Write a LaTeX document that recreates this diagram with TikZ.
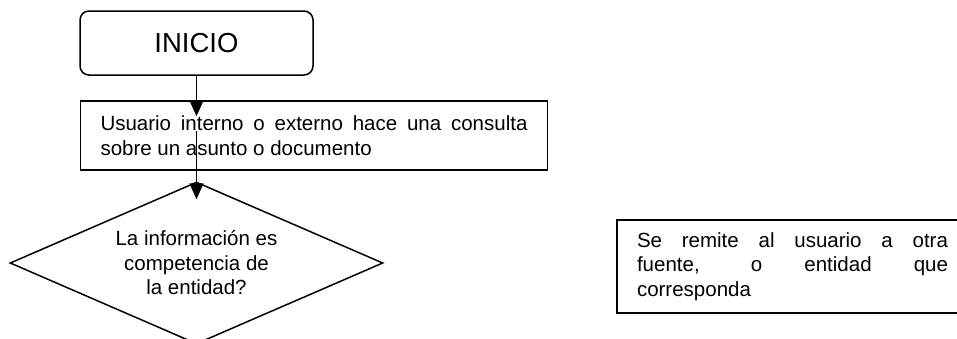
\documentclass[tikz,border=0pt]{standalone}
\usepackage{fontspec}
\setmainfont{Liberation Sans}
\usetikzlibrary{positioning,shapes.geometric,arrows.meta}
\hyphenpenalty=10000
\exhyphenpenalty=10000
\tikzset{>={Triangle[width=14pt,length=16pt]}}
\tikzstyle{block} = [rectangle, draw, line width=1.5pt, fill=white,
    align=justify, inner xsep=20pt, font=\fontsize{20.5pt}{24.5pt}\selectfont]
\tikzstyle{startbox} = [rectangle, draw, line width=1.5pt, rounded corners=9pt,
    minimum width=233pt, minimum height=64pt, font=\fontsize{27.5pt}{33pt}\selectfont]
\tikzstyle{decision} = [diamond, draw, line width=1.5pt, shape aspect=2.3,
    inner sep=0pt, minimum width=373pt, minimum height=162pt, align=center,
    font=\fontsize{20.5pt}{24.5pt}\selectfont]

\begin{document}
\begin{tikzpicture}
  \useasboundingbox (0,0) rectangle (957pt,-338pt);
  \node [startbox] (n1) at (196.5pt,-43pt) {INICIO};
  \node [block, text width=427pt, minimum height=69pt, node distance=92.5pt,
    below of=n1, xshift=117.5pt] (n2)
    {Usuario interno o externo hace una consulta sobre un asunto o documento};
  \node [decision, node distance=127.5pt, below of=n2, xshift=-117.5pt] (n3)
    {La información es\\competencia de\\la entidad?};
  \node [block, text width=311pt, minimum height=93pt, node distance=596pt,
    right of=n3, yshift=-3.5pt] (n4)
    {Se remite al usuario a otra\linebreak{} fuente, o entidad que\linebreak{} corresponda};

  \path (n1.south |- n2.north) ++(0,-16pt) coordinate (t1);
  \path (n3.north |- n2.north) ++(0,-31pt) coordinate (s2);
  \path (n3.north) ++(0,-18pt) coordinate (t2);

  \path[->,line width=1.5pt] (n1) edge (t1);
  \path[->,line width=1.5pt] (s2) edge (t2);
\end{tikzpicture}
\end{document}
